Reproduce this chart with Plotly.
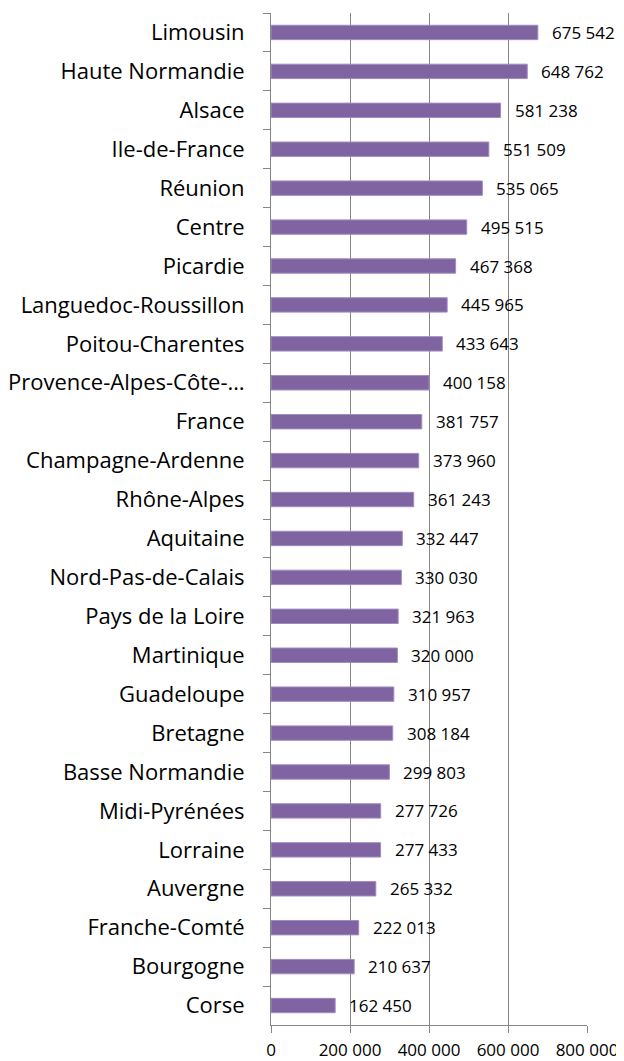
import plotly.graph_objects as go

categories = ["Limousin", "Haute Normandie", "Alsace", "Ile-de-France", "Réunion", "Centre",
              "Picardie", "Languedoc-Roussillon", "Poitou-Charentes", "Provence-Alpes-Côte-…",
              "France", "Champagne-Ardenne", "Rhône-Alpes", "Aquitaine", "Nord-Pas-de-Calais",
              "Pays de la Loire", "Martinique", "Guadeloupe", "Bretagne", "Basse Normandie",
              "Midi-Pyrénées", "Lorraine", "Auvergne", "Franche-Comté", "Bourgogne", "Corse"]
values = [675542, 648762, 581238, 551509, 535065, 495515, 467368, 445965, 433643, 400158,
          381757, 373960, 361243, 332447, 330030, 321963, 320000, 310957, 308184, 299803,
          277726, 277433, 265332, 222013, 210637, 162450]
tick_vals = [0, 200000, 400000, 600000, 800000]
tick_text = ["0", "200 000", "400 000", "600 000", "800 000"]

def fmt(v):
    return f"{v:,}".replace(",", " ")

FONT = "Open Sans"
fig = go.Figure()
fig.add_trace(go.Bar(
    x=values, y=categories, orientation="h",
    marker=dict(color="#8064A2", line=dict(color="#A08CC0", width=1)),
    width=0.37,
))
for c, v in zip(categories, values):
    fig.add_annotation(x=v, y=c, text=fmt(v), showarrow=False, xanchor="left",
                       xshift=12, font=dict(family=FONT, size=17, color="#000000"))

fig.update_layout(
    width=616, height=1053,
    margin=dict(l=263, r=37, t=5, b=36),
    paper_bgcolor="white", plot_bgcolor="white",
    showlegend=False,
    font=dict(family=FONT, color="#000000"),
)
fig.update_xaxes(range=[0, 800000], tickvals=tick_vals, ticktext=tick_text,
                 showgrid=True, gridcolor="#868686", gridwidth=1,
                 showline=True, linecolor="#868686", linewidth=1,
                 ticks="outside", ticklen=7, tickcolor="#868686",
                 tickfont=dict(family=FONT, size=17, color="#000000"),
                 ticklabelstandoff=3,
                 zeroline=False, fixedrange=True, automargin=False)
fig.update_yaxes(autorange="reversed", type="category",
                 showline=True, linecolor="#868686", linewidth=1,
                 ticks="outside", ticklen=7, tickcolor="#868686", tickson="boundaries",
                 tickfont=dict(family=FONT, size=22, color="#000000"),
                 ticklabelstandoff=21, showgrid=False, fixedrange=True, automargin=False)

fig.write_html("out.html")
